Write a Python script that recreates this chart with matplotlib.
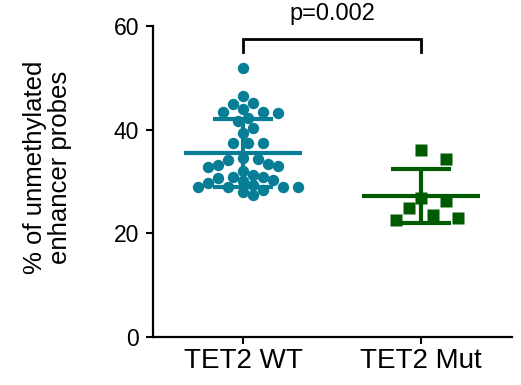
import matplotlib
matplotlib.use("Agg")
import matplotlib.pyplot as plt
import numpy as np

plt.rcParams["font.family"] = ["Liberation Sans", "DejaVu Sans"]

groups = ["TET2 WT", "TET2 Mut"]
wt_vals = [51.9, 46.4, 45.1, 45.0, 43.5, 43.2, 44.0, 43.5, 42.2, 41.6,
           40.3, 39.3, 37.4, 37.5, 37.5, 34.3, 34.5, 34.2, 32.9, 33.4,
           32.1, 33.2, 32.8, 31.3, 30.0, 29.7, 30.3, 30.9, 30.9, 30.6,
           28.4, 29.0, 29.0, 29.0, 29.3, 28.0, 29.0, 27.3]
mut_vals = [36.1, 34.3, 26.8, 26.3, 24.8, 23.6, 22.9, 22.6]
p_text = "p=0.002"
yticks = [0, 20, 40, 60]

WT_COL = "#087e96"
MUT_COL = "#005a00"

fig = plt.figure(figsize=(5.21, 3.85), dpi=100)
ax = fig.add_axes([153/521, 48/385, 359/521, 311/385])
ax.set_xlim(-0.506, 1.511)
ax.set_ylim(0, 60)

# pixel scale of the data units, for the swarm layout
x_px = ax.transData.transform((1, 0))[0] - ax.transData.transform((0, 0))[0]
y_px = ax.transData.transform((0, 1))[1] - ax.transData.transform((0, 0))[1]

def swarm(vals, sep, step):
  """greedy beeswarm: offsets (data units) so points sit sep px apart"""
  order = np.argsort(vals)[::-1]
  placed = []
  offs = np.zeros(len(vals))
  for i in order:
    y = vals[i] * y_px
    for k in range(0, 40):
      cands = [0.0] if k == 0 else [k * step, -k * step]
      ok = None
      for c in cands:
        if all((c - px) ** 2 + (y - py) ** 2 >= sep ** 2 for px, py in placed):
          ok = c; break
      if ok is not None:
        break
    placed.append((ok, y))
    offs[i] = ok / x_px
  return offs

wt = np.array(wt_vals)
mut = np.array(mut_vals)
wt_off = swarm(wt, 10.2, 5.0)
mut_off = swarm(mut, 16.0, 12.3)

ax.plot(0 + wt_off, wt, "o", ms=8.2, color=WT_COL, mec="none", zorder=3)
ax.plot(1 + mut_off, mut, "s", ms=9.2, color=MUT_COL, mec="none", zorder=3)

for i, (v, col) in enumerate([(wt, WT_COL), (mut, MUT_COL)]):
  m, sd = v.mean(), v.std(ddof=1)
  ax.hlines(m, i - 0.333, i + 0.333, color=col, lw=3, zorder=4)
  ax.vlines(i, m - sd, m + sd, color=col, lw=3, zorder=4)
  ax.hlines([m - sd, m + sd], i - 0.168, i + 0.168, color=col, lw=3, zorder=4)

# significance bracket
ax.plot([0, 0, 1, 1], [55.0, 57.5, 57.5, 55.0], color="black", lw=2,
        clip_on=False, solid_joinstyle="miter")
ax.text(0.5, 60.2, p_text, ha="center", va="bottom", fontsize=17)

ax.set_xticks([0, 1])
ax.set_xticklabels(groups, fontsize=20)
ax.set_yticks(yticks)
ax.tick_params(axis="y", labelsize=16.5, length=5, width=1.5, pad=5)
ax.tick_params(axis="x", length=5, width=1.5, pad=3)
for s in ["top", "right"]:
  ax.spines[s].set_visible(False)
for s in ["left", "bottom"]:
  ax.spines[s].set_linewidth(1.6)

ax.set_ylabel("% of unmethylated\nenhancer probes", fontsize=18.5, linespacing=1.05)
ax.yaxis.set_label_coords(-0.225, 0.545)

fig.savefig("out.png", dpi=100)
